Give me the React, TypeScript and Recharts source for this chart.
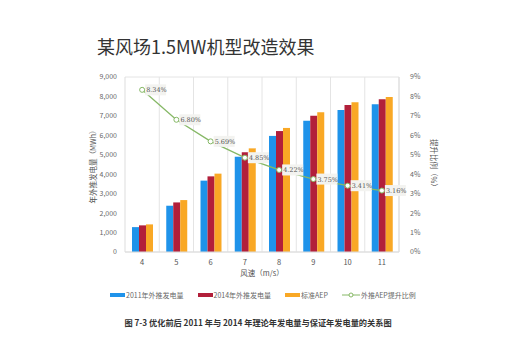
import React from "react";
import { ComposedChart, Bar, Line, XAxis, YAxis, CartesianGrid, LabelList } from "recharts";

const speeds = ["4", "5", "6", "7", "8", "9", "10", "11"];
const aep2011 = [1280, 2380, 3670, 4900, 5970, 6750, 7300, 7600];
const aep2014 = [1370, 2550, 3890, 5130, 6220, 7010, 7560, 7860];
const aepStd = [1420, 2670, 4030, 5330, 6380, 7190, 7700, 7970];
const upRatio = [8.34, 6.8, 5.69, 4.85, 4.22, 3.75, 3.41, 3.16];
const leftTicks = [0, 1000, 2000, 3000, 4000, 5000, 6000, 7000, 8000, 9000];
const rightTicks = [0, 1, 2, 3, 4, 5, 6, 7, 8, 9];

const data = speeds.map((s, i) => ({
  speed: s,
  a2011: aep2011[i],
  a2014: aep2014[i],
  std: aepStd[i],
  ratio: upRatio[i],
}));

const BLUE = "#1f93ea";
const RED = "#b21f3a";
const ORANGE = "#f9a825";
const GREEN = "#86b866";
const CJK = '"Noto Sans CJK SC", "Noto Sans", sans-serif';

const RatioLabel = (props: any) => {
  const { x, y, value } = props;
  const txt = value.toFixed(2) + "%";
  return (
    <g>
      <rect x={x + 3} y={y - 5.5} width={21} height={11} fill="#f3f3f0" />
      <text x={x + 4} y={y + 2.5} fontSize={6.5} fill="#555" fontFamily="DejaVu Serif, serif">
        {txt}
      </text>
    </g>
  );
};

const legendItems = [
  { label: "2011年外推发电量", color: BLUE, type: "bar" },
  { label: "2014年外推发电量", color: RED, type: "bar" },
  { label: "标准AEP", color: ORANGE, type: "bar" },
  { label: "外推AEP提升比例", color: GREEN, type: "line" },
];

export default function App() {
  return (
    <div style={{ position: "relative", width: 516, height: 359, margin: -8, background: "#fff", fontFamily: CJK }}>
      <div style={{ position: "absolute", left: 97, top: 33, fontSize: 18, color: "#333", whiteSpace: "nowrap" }}>
        某风场1.5MW机型改造效果
      </div>
      <div style={{ position: "absolute", left: 0, top: 0 }}>
        <ComposedChart
          width={516}
          height={359}
          data={data}
          margin={{ top: 77, right: 87, bottom: 93, left: 95 }}
          barGap={0}
          barCategoryGap="19%"
        >
          <CartesianGrid
            stroke="#e4e4e4"
            verticalCoordinatesGenerator={({ offset }: any) =>
              speeds.map((_, i) => offset.left + ((i + 1) * offset.width) / speeds.length)
            }
          />
          <XAxis
            dataKey="speed"
            axisLine={{ stroke: "#ddd" }}
            tickLine={false}
            tick={{ fontSize: 7.5, fill: "#555" }}
            height={14}
          />
          <YAxis
            yAxisId="left"
            domain={[0, 9000]}
            ticks={leftTicks}
            width={30}
            axisLine={{ stroke: "#ddd" }}
            tickLine={false}
            tick={{ fontSize: 7, fill: "#666" }}
            tickFormatter={(v: number) => v.toLocaleString("en-US")}
          />
          <YAxis
            yAxisId="right"
            orientation="right"
            domain={[0, 9]}
            ticks={rightTicks}
            width={30}
            axisLine={{ stroke: "#ddd" }}
            tickLine={false}
            tick={{ fontSize: 7, fill: "#666", dx: 3 }}
            tickFormatter={(v: number) => v + "%"}
          />
          <Bar yAxisId="left" dataKey="a2011" fill={BLUE} barSize={7} isAnimationActive={false} />
          <Bar yAxisId="left" dataKey="a2014" fill={RED} barSize={7} isAnimationActive={false} />
          <Bar yAxisId="left" dataKey="std" fill={ORANGE} barSize={7} isAnimationActive={false} />
          <Line
            yAxisId="right"
            dataKey="ratio"
            stroke={GREEN}
            strokeWidth={1.3}
            dot={{ r: 2.5, fill: "#fff", stroke: GREEN, strokeWidth: 1 }}
            isAnimationActive={false}
          >
            <LabelList dataKey="ratio" content={<RatioLabel />} />
          </Line>
        </ComposedChart>
      </div>
      <div
        style={{
          position: "absolute",
          left: 92,
          top: 165,
          transform: "translate(-50%, -50%) rotate(-90deg)",
          fontSize: 7.5,
          color: "#555",
          whiteSpace: "nowrap",
        }}
      >
        年外推发电量（MWh）
      </div>
      <div
        style={{
          position: "absolute",
          left: 434,
          top: 165,
          transform: "translate(-50%, -50%) rotate(90deg)",
          fontSize: 7.5,
          color: "#555",
          whiteSpace: "nowrap",
        }}
      >
        提升比例（%）
      </div>
      <div style={{ position: "absolute", left: 262, top: 272, transform: "translate(-50%, -50%)", fontSize: 7.5, color: "#555", whiteSpace: "nowrap" }}>
        风速（m/s）
      </div>
      <div style={{ position: "absolute", left: 110, top: 290, display: "flex", alignItems: "center", fontSize: 7, color: "#666", whiteSpace: "nowrap" }}>
        {legendItems.map((it) => (
          <div key={it.label} style={{ display: "flex", alignItems: "center", marginRight: 14 }}>
            {it.type === "bar" ? (
              <span style={{ display: "inline-block", width: 15, height: 4, background: it.color, marginRight: 1 }} />
            ) : (
              <svg width={18} height={8} style={{ marginRight: 1 }}>
                <line x1={0} y1={4} x2={18} y2={4} stroke={it.color} strokeWidth={1} />
                <circle cx={9} cy={4} r={2} fill="#fff" stroke={it.color} strokeWidth={1} />
              </svg>
            )}
            <span>{it.label}</span>
          </div>
        ))}
      </div>
      <div
        style={{
          position: "absolute",
          left: 258,
          top: 322,
          transform: "translate(-50%, -50%)",
          fontSize: 8.2,
          fontWeight: "bold",
          color: "#333",
          whiteSpace: "nowrap",
          fontFamily: '"Noto Sans CJK SC", serif',
        }}
      >
        图 7-3 优化前后 2011 年与 2014 年理论年发电量与保证年发电量的关系图
      </div>
    </div>
  );
}
